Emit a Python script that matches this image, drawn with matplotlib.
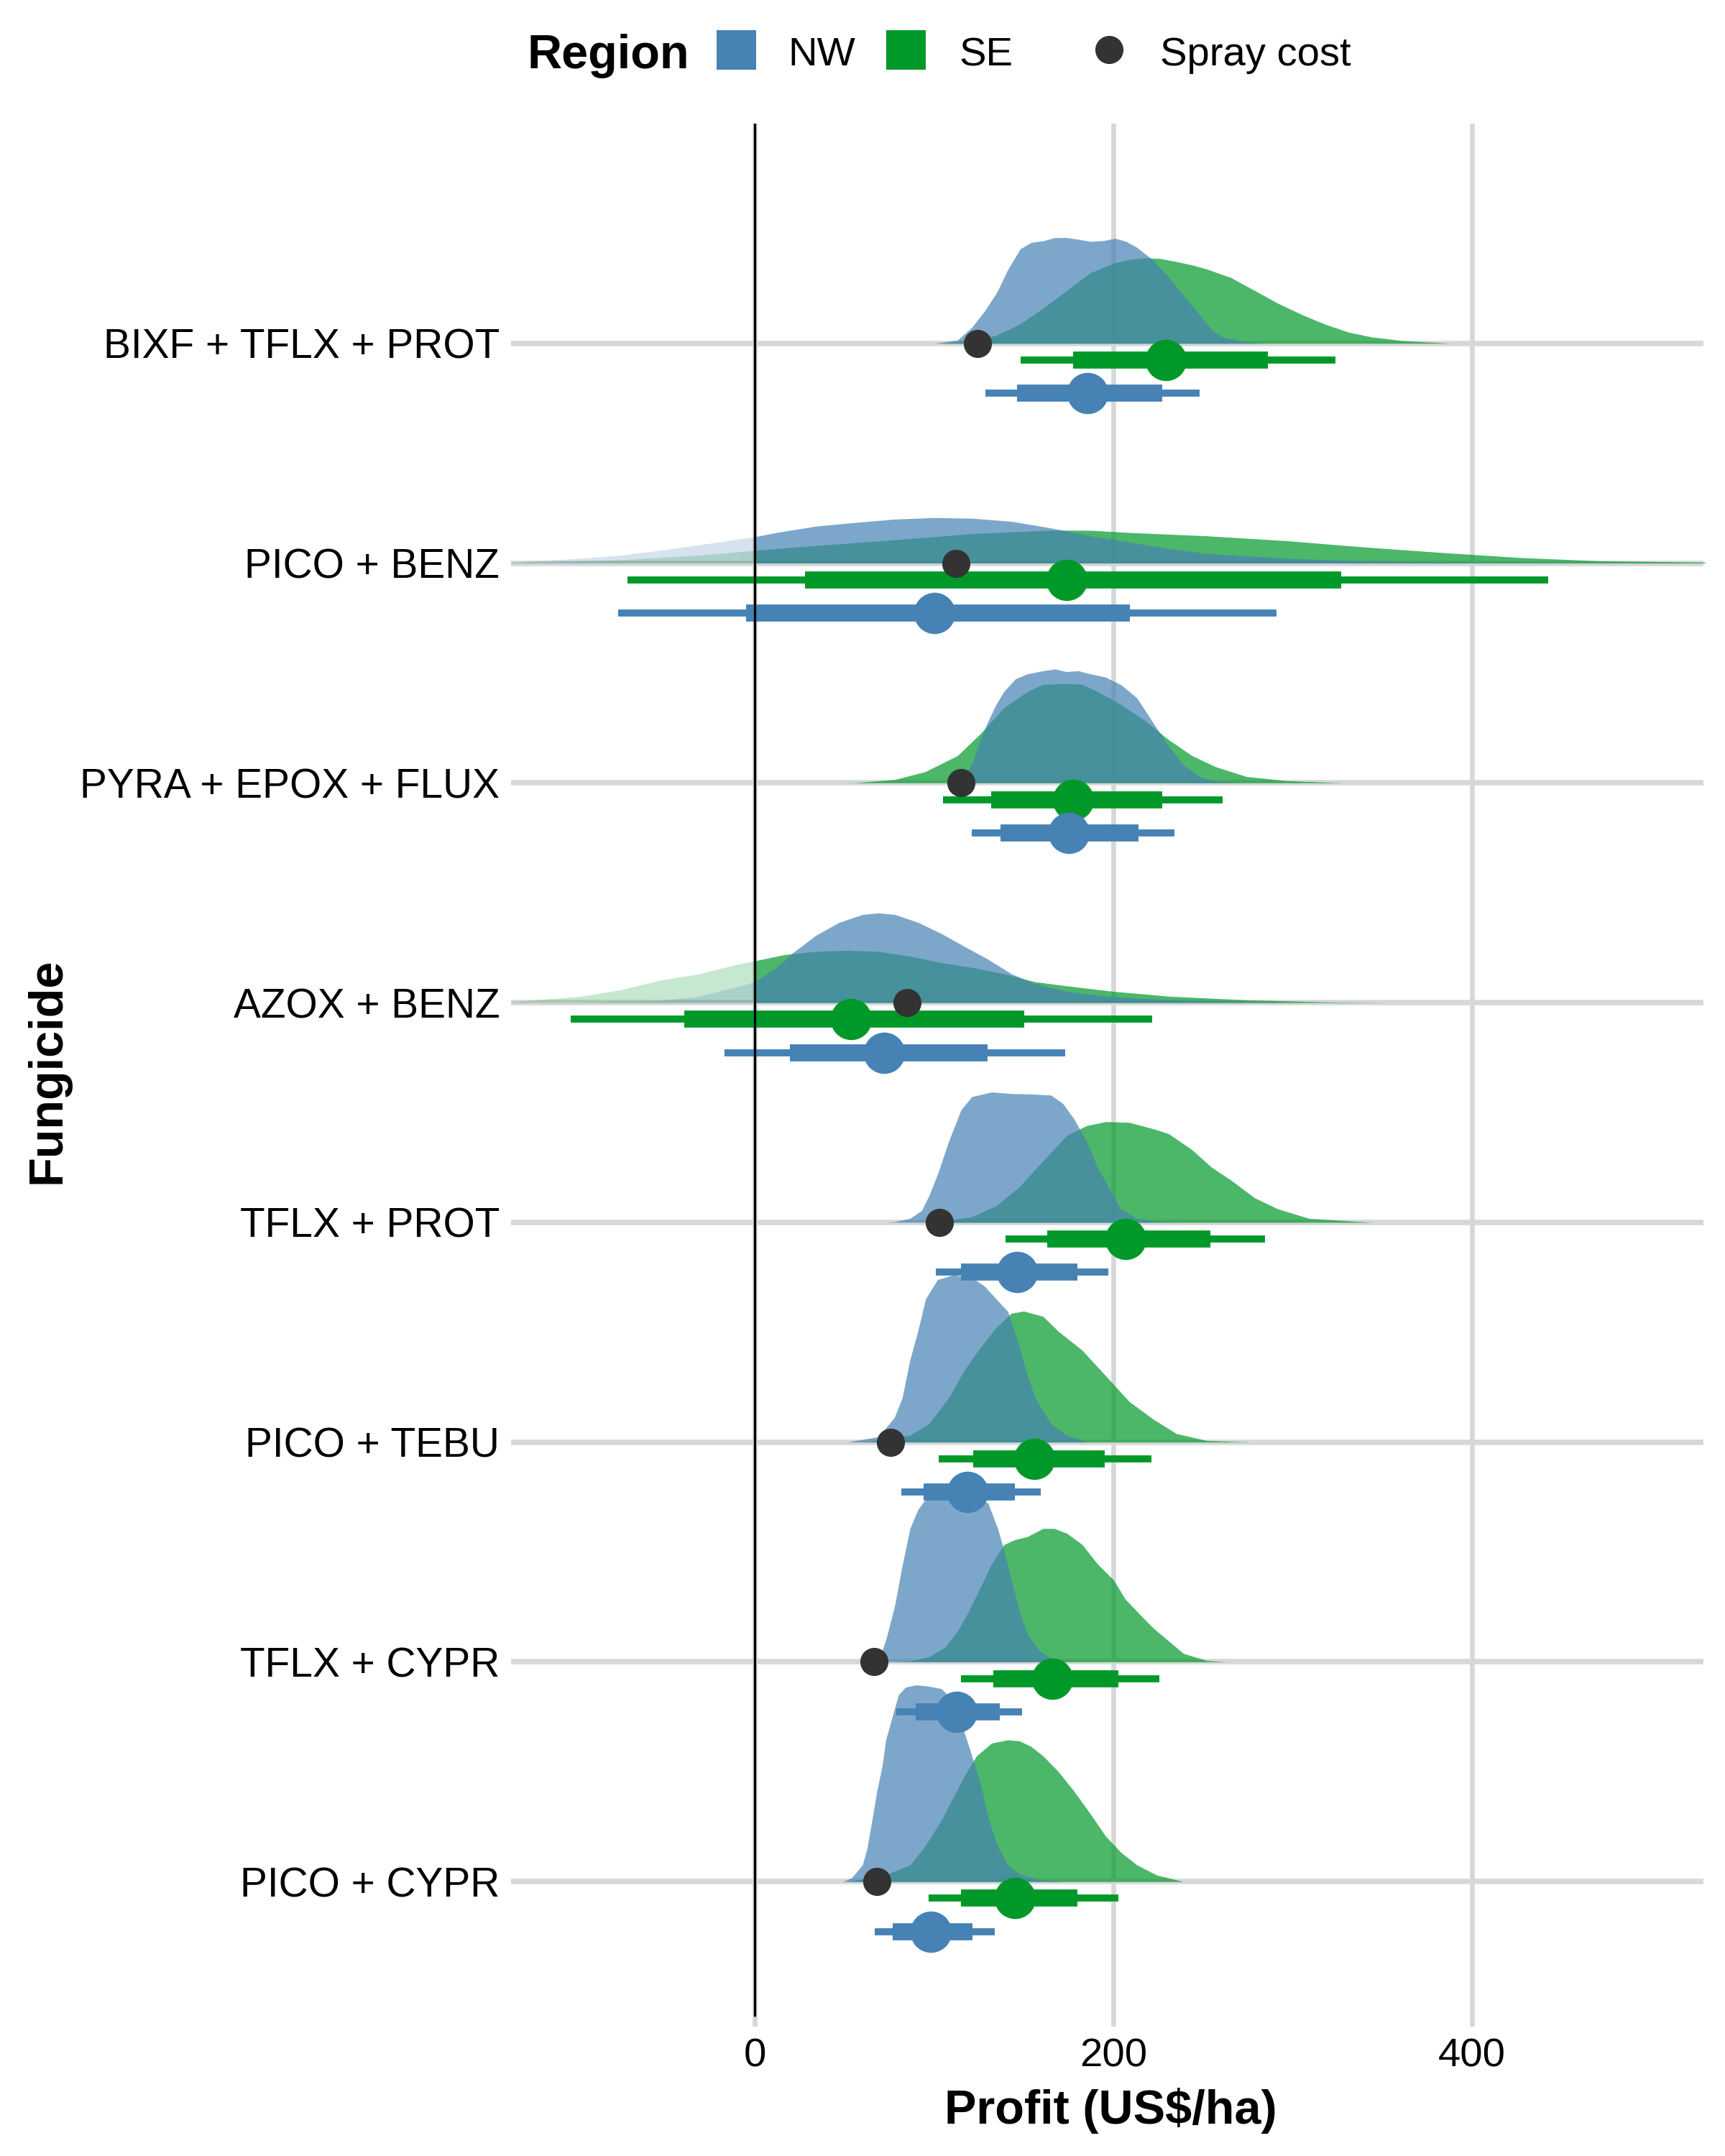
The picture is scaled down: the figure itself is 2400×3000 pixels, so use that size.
import matplotlib
matplotlib.use('Agg')
import matplotlib.pyplot as plt
from matplotlib.patches import Rectangle
from matplotlib.lines import Line2D

plt.rcParams['font.family'] = ['Liberation Sans', 'DejaVu Sans']

# ---------------- data ----------------
fungicides = ["PICO + CYPR", "TFLX + CYPR", "PICO + TEBU", "TFLX + PROT",
              "AZOX + BENZ", "PYRA + EPOX + FLUX", "PICO + BENZ", "BIXF + TFLX + PROT"]
spray_cost = [68, 66.5, 75.6, 103, 85, 115, 112, 124]

nw_median = [98, 112.6, 118.6, 146, 72, 175, 100, 185.5]
nw_lo66 = [77, 89.6, 94, 115, 19.7, 137, -4.8, 146]
nw_hi66 = [121.5, 136.6, 145, 180, 129.8, 214, 209, 227]
nw_lo95 = [67, 79, 81.6, 101, -17, 121, -76.4, 128.7]
nw_hi95 = [133.6, 149, 159.6, 197, 173, 234, 291, 248]

se_median = [145, 166, 156, 206.6, 53.7, 177.5, 174, 229]
se_lo66 = [115, 133, 121.8, 163, -39.4, 131.6, 28, 177.5]
se_hi66 = [180, 202.6, 195, 254, 150.4, 227, 327, 286]
se_lo95 = [97, 115, 102.7, 139.7, -102.7, 105, -71, 148]
se_hi95 = [202.6, 225.7, 221, 284.6, 221.7, 261, 442.6, 323.6]

# density curves (profit value, scaled density height)
pico_cypr_nw_x = [49, 54, 60, 62.5, 65, 68, 71, 73, 80, 84, 90, 97, 104, 113, 117, 121, 126, 130, 134.5, 141, 148, 161, 174]
pico_cypr_nw_h = [0, 0.018, 0.076, 0.149, 0.265, 0.411, 0.528, 0.645, 0.849, 0.885, 0.895, 0.889, 0.878, 0.805, 0.674, 0.572, 0.440, 0.295, 0.178, 0.076, 0.032, 0.006, 0]
pico_cypr_se_x = [52, 73, 86.5, 95, 104, 110.5, 117, 123.6, 132, 141, 147.6, 154, 160.7, 169.4, 178, 187, 195.6, 204, 213, 224, 239]
pico_cypr_se_h = [0, 0.032, 0.076, 0.163, 0.280, 0.382, 0.484, 0.572, 0.630, 0.645, 0.640, 0.615, 0.572, 0.499, 0.411, 0.309, 0.207, 0.134, 0.076, 0.030, 0]

tflx_cypr_nw_x = [63, 65, 71, 73.4, 78, 82, 86.5, 91, 95, 104, 113, 121, 130, 135.4, 139, 143, 147.6, 152, 158.5, 165, 174]
tflx_cypr_nw_h = [0, 0.009, 0.052, 0.111, 0.257, 0.432, 0.607, 0.694, 0.738, 0.752, 0.752, 0.749, 0.723, 0.607, 0.505, 0.373, 0.227, 0.125, 0.052, 0.016, 0]
tflx_cypr_se_x = [80, 86.5, 97, 106, 113, 119, 126, 132, 139, 145, 152, 160.7, 167, 174, 182.5, 191, 200, 206.5, 215, 222, 230.6, 239, 252, 263]
tflx_cypr_se_h = [0, 0.003, 0.023, 0.067, 0.140, 0.227, 0.344, 0.446, 0.534, 0.556, 0.570, 0.607, 0.607, 0.585, 0.534, 0.446, 0.373, 0.286, 0.213, 0.155, 0.096, 0.038, 0.006, 0]

pico_tebu_nw_x = [51.6, 69, 77.8, 82.1, 86.5, 90.9, 95.2, 101.8, 110.5, 121.4, 128, 134.5, 141.1, 147.6, 152, 156.4, 160.7, 165.1, 173.8, 184.7]
pico_tebu_nw_h = [0, 0.025, 0.112, 0.200, 0.375, 0.506, 0.652, 0.739, 0.761, 0.747, 0.710, 0.652, 0.594, 0.433, 0.302, 0.200, 0.142, 0.083, 0.032, 0.003]
pico_tebu_se_x = [60, 65, 86.5, 97, 108, 117, 126, 134.5, 143, 150, 160.7, 169, 182.5, 195.6, 208.7, 222, 235, 252, 276]
pico_tebu_se_h = [0, 0.003, 0.032, 0.083, 0.200, 0.331, 0.433, 0.521, 0.586, 0.596, 0.572, 0.506, 0.418, 0.302, 0.185, 0.105, 0.039, 0.007, 0]

tflx_prot_nw_x = [74, 78, 86.5, 93, 97, 102, 108, 115, 121, 132, 143, 156, 165, 171.6, 178, 185, 191, 198, 204, 213, 226, 239]
tflx_prot_nw_h = [0, 0.003, 0.018, 0.054, 0.120, 0.222, 0.367, 0.513, 0.572, 0.593, 0.586, 0.583, 0.579, 0.542, 0.470, 0.367, 0.251, 0.149, 0.061, 0.018, 0.003, 0]
tflx_prot_se_x = [95, 104, 121, 134.5, 147.6, 160.7, 174, 185, 195.6, 208.7, 222, 230.6, 243.7, 254.6, 265.5, 278.6, 291.7, 309, 344]
tflx_prot_se_h = [0, 0.006, 0.025, 0.076, 0.163, 0.280, 0.397, 0.440, 0.458, 0.455, 0.426, 0.404, 0.331, 0.251, 0.192, 0.112, 0.061, 0.018, 0]

azox_benz_nw_x = [-100, -86, -53, -31, -9.5, 0, 12, 21, 34, 47, 60, 69, 78, 91, 104, 117, 130, 143, 156, 174, 200, 231, 274, 305]
azox_benz_nw_h = [0, 0.003, 0.010, 0.029, 0.073, 0.095, 0.160, 0.226, 0.306, 0.365, 0.401, 0.408, 0.401, 0.365, 0.314, 0.255, 0.197, 0.131, 0.087, 0.051, 0.026, 0.012, 0.004, 0]
azox_benz_se_x = [-136, -130, -97, -75, -53, -31, -9.5, 0, 17, 34, 52, 69, 86.5, 104, 121, 139, 156, 174, 200, 231, 274, 318, 352]
azox_benz_se_h = [0.004, 0.007, 0.029, 0.058, 0.102, 0.131, 0.175, 0.190, 0.219, 0.233, 0.238, 0.233, 0.211, 0.182, 0.160, 0.131, 0.095, 0.076, 0.051, 0.029, 0.012, 0.003, 0]

pyra_nw_x = [114.9, 121.4, 125.8, 130.2, 134.5, 138.9, 145.4, 152, 160.7, 167.3, 173.8, 180.4, 186.9, 195.6, 204.4, 213.1, 221.8, 230.6, 239.3, 248, 256.7, 269.8]
pyra_nw_h = [0, 0.095, 0.197, 0.284, 0.357, 0.416, 0.474, 0.496, 0.510, 0.518, 0.506, 0.510, 0.496, 0.481, 0.445, 0.386, 0.277, 0.168, 0.080, 0.029, 0.007, 0]
pyra_se_x = [50, 57, 78, 95, 113, 126, 139, 152, 160.7, 174, 182.5, 191, 204, 217.5, 230.6, 243.7, 257, 274, 296, 328]
pyra_se_h = [0, 0.0015, 0.015, 0.051, 0.124, 0.226, 0.343, 0.416, 0.448, 0.452, 0.448, 0.416, 0.357, 0.284, 0.197, 0.124, 0.073, 0.029, 0.010, 0]

pico_benz_nw_x = [-136, -130, -97, -75, -53, -31, -9.5, 0, 12, 34, 56, 78, 100, 121, 143, 165, 187, 209, 231, 252, 296, 340, 383, 427, 514]
pico_benz_nw_h = [0.004, 0.007, 0.022, 0.036, 0.058, 0.083, 0.109, 0.120, 0.139, 0.168, 0.185, 0.200, 0.207, 0.204, 0.190, 0.160, 0.124, 0.095, 0.066, 0.044, 0.022, 0.010, 0.004, 0.0015, 0]
pico_benz_se_x = [-136, -130, -75, -31, 0, 34, 78, 121, 165, 187, 209, 252, 296, 340, 383, 427, 471, 530]
pico_benz_se_h = [0.002, 0.003, 0.015, 0.036, 0.058, 0.080, 0.106, 0.134, 0.150, 0.149, 0.139, 0.124, 0.102, 0.073, 0.048, 0.025, 0.010, 0.004]

bixf_nw_x = [100, 113, 121, 128, 135, 141, 148, 154, 161, 167, 174, 180, 187, 194, 201, 207, 213, 222, 231, 239, 248, 255, 261, 270, 283]
bixf_nw_h = [0, 0.015, 0.073, 0.146, 0.233, 0.335, 0.430, 0.459, 0.467, 0.481, 0.481, 0.474, 0.464, 0.467, 0.478, 0.464, 0.437, 0.379, 0.299, 0.219, 0.131, 0.058, 0.029, 0.012, 0]
bixf_se_x = [104, 121, 134.5, 147.6, 160.7, 174, 187, 200, 208.7, 217.5, 226, 235, 243.7, 252, 265.5, 278.6, 291.7, 305, 318, 331, 344, 361.5, 388]
bixf_se_h = [0, 0.015, 0.036, 0.087, 0.160, 0.241, 0.321, 0.365, 0.382, 0.389, 0.386, 0.372, 0.357, 0.338, 0.299, 0.241, 0.182, 0.131, 0.087, 0.051, 0.029, 0.012, 0]

nw_dens_x = [pico_cypr_nw_x, tflx_cypr_nw_x, pico_tebu_nw_x, tflx_prot_nw_x, azox_benz_nw_x, pyra_nw_x, pico_benz_nw_x, bixf_nw_x]
nw_dens_h = [pico_cypr_nw_h, tflx_cypr_nw_h, pico_tebu_nw_h, tflx_prot_nw_h, azox_benz_nw_h, pyra_nw_h, pico_benz_nw_h, bixf_nw_h]
se_dens_x = [pico_cypr_se_x, tflx_cypr_se_x, pico_tebu_se_x, tflx_prot_se_x, azox_benz_se_x, pyra_se_x, pico_benz_se_x, bixf_se_x]
se_dens_h = [pico_cypr_se_h, tflx_cypr_se_h, pico_tebu_se_h, tflx_prot_se_h, azox_benz_se_h, pyra_se_h, pico_benz_se_h, bixf_se_h]

x_ticks = [0, 200, 400]

# ---------------- style ----------------
NW_COL = '#4682B4'
SE_COL = '#009929'
DOT_COL = '#333333'
GRID_COL = '#D7D7D7'
A_POS = 0.70
A_NEG = 0.22

W, H = 2400, 3000
fig = plt.figure(figsize=(8, 10), dpi=300)
ax = fig.add_axes([711 / W, 0.06, (2370 - 711) / W, (2820 - 172) / H])

ax.set_xlim(-136, 529)
ax.set_ylim(0.34, 9.0)
for s in ax.spines.values():
    s.set_visible(False)

ax.set_xticks(x_ticks)
ax.set_xticklabels([str(t) for t in x_ticks])
ypos = list(range(1, len(fungicides) + 1))
ax.set_yticks(ypos)
ax.set_yticklabels(fungicides)
ax.tick_params(axis='x', length=0, pad=3.8, labelsize=13.5, colors='black')
ax.tick_params(axis='y', length=0, pad=3.8, labelsize=13.65, colors='black')

ax.set_axisbelow(True)
ax.grid(axis='x', color=GRID_COL, linewidth=1.6)
ax.grid(axis='y', color=GRID_COL, linewidth=1.8)


def draw_density(xs, hs, base, color):
    for alpha, cx in ((A_POS, (0, 1000)), (A_NEG, (-1000, 0))):
        coll = ax.fill_between(xs, [base] * len(xs), [base + h for h in hs],
                               color=color, alpha=alpha, linewidth=0, zorder=2)
        clip = Rectangle((cx[0], -10), cx[1] - cx[0], 100, transform=ax.transData)
        coll.set_clip_path(clip)


for i, y in enumerate(ypos):
    draw_density(se_dens_x[i], se_dens_h[i], y, SE_COL)
    draw_density(nw_dens_x[i], nw_dens_h[i], y, NW_COL)

SE_OFF = -0.076
NW_OFF = -0.227
for i, y in enumerate(ypos):
    for med, l66, h66, l95, h95, off, col in (
            (se_median, se_lo66, se_hi66, se_lo95, se_hi95, SE_OFF, SE_COL),
            (nw_median, nw_lo66, nw_hi66, nw_lo95, nw_hi95, NW_OFF, NW_COL)):
        yy = y + off
        ax.plot([l95[i], h95[i]], [yy, yy], color=col, lw=2.36,
                solid_capstyle='butt', zorder=3)
        ax.plot([l66[i], h66[i]], [yy, yy], color=col, lw=5.7,
                solid_capstyle='butt', zorder=3)
        ax.plot([med[i]], [yy], marker='o', ms=13.8, color=col,
                markeredgewidth=0, zorder=3)

ax.plot(spray_cost, ypos, linestyle='none', marker='o', ms=9.4, color=DOT_COL,
        markeredgewidth=0, zorder=5)

ax.axvline(0, color='black', lw=0.8, ymin=0.006, zorder=6)

# ---------------- titles ----------------
def fx(px):
    return px / W


def fy(py):
    return 1 - py / H


fig.text(fx(1545), fy(2955), 'Profit (US$/ha)', fontsize=16, fontweight='bold',
         ha='center', va='baseline')
fig.text(fx(84), fy(1490), 'Fungicide', fontsize=16, fontweight='bold',
         rotation=90, rotation_mode='anchor', ha='center', va='baseline')

# ---------------- legend ----------------
fig.text(fx(733), fy(95), 'Region', fontsize=16, fontweight='bold', ha='left', va='baseline')
fig.add_artist(Rectangle((fx(997), fy(97)), 55 / W, 55 / H, facecolor=NW_COL,
                         edgecolor='none', transform=fig.transFigure))
fig.text(fx(1096), fy(91), 'NW', fontsize=13.5, ha='left', va='baseline')
fig.add_artist(Rectangle((fx(1233), fy(97)), 55 / W, 55 / H, facecolor=SE_COL,
                         edgecolor='none', transform=fig.transFigure))
fig.text(fx(1334), fy(91), 'SE', fontsize=13.5, ha='left', va='baseline')
fig.add_artist(Line2D([fx(1543)], [fy(69)], marker='o', ms=9.4, color=DOT_COL,
                      markeredgewidth=0, linestyle='none', transform=fig.transFigure))
fig.text(fx(1614), fy(91), 'Spray cost', fontsize=13.5, ha='left', va='baseline')

fig.savefig('out.png', dpi=300)
